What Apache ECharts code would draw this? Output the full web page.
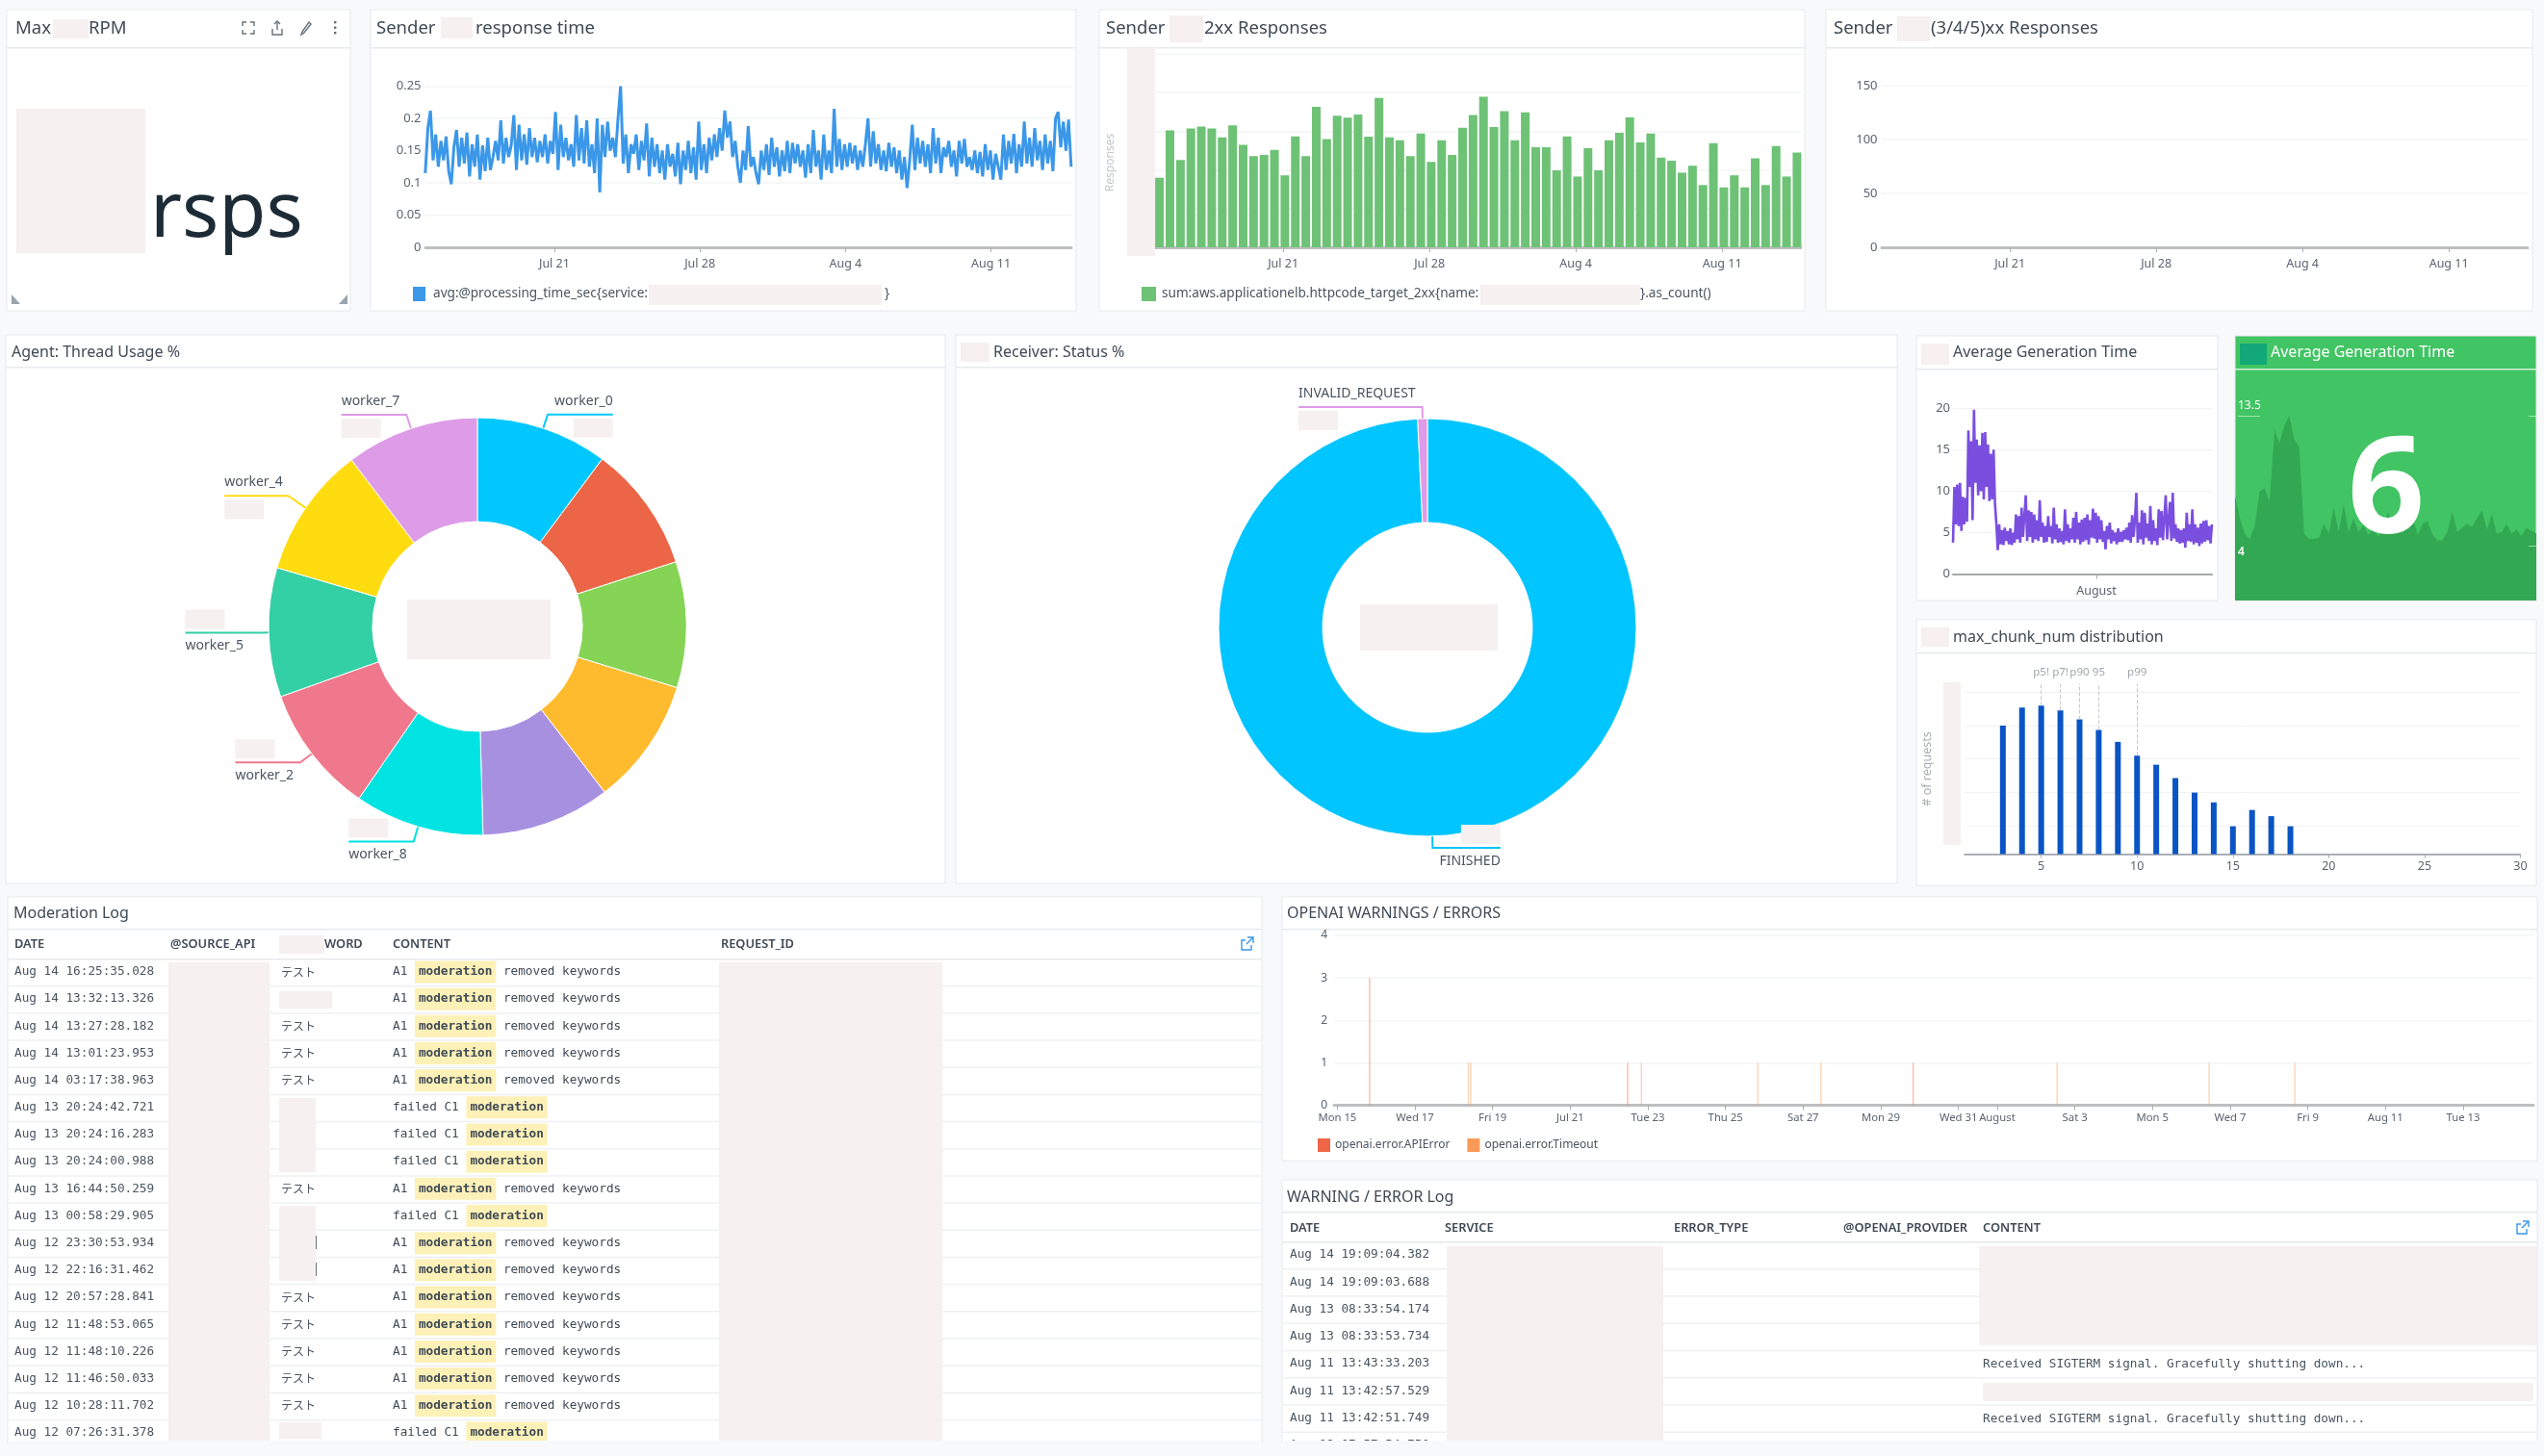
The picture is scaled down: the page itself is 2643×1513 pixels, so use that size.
<!DOCTYPE html>
<html>
<head>
<meta charset="utf-8">
<title>Dashboard</title>
<style>
  html, body { margin: 0; padding: 0; background: #f7f9fb; }
  #main { width: 2643px; height: 1513px; }
</style>
<script src="https://cdn.jsdelivr.net/npm/echarts@6/dist/echarts.min.js"></script>
</head>
<body>
<div id="main"></div>
<script>
// ---- data ----
const rangeStart = '2024-07-14T19:00:00'
const rangeEnd = '2024-08-14T20:30:00'

const weekTicks = ['2024-07-21', '2024-07-28', '2024-08-04', '2024-08-11']
const weekLabels = ['Jul 21', 'Jul 28', 'Aug 4', 'Aug 11']

const responseTime = [
  .115,.185,.212,.135,.175,.125,.165,.135,.172,.118,
  .098,.155,.182,.125,.17,.13,.178,.11,.16,.125,
  .175,.105,.158,.118,.17,.12,.14,.165,.135,.197,
  .13,.17,.14,.158,.205,.12,.19,.135,.175,.128,
  .185,.14,.17,.132,.165,.14,.175,.13,.165,.145,
  .21,.12,.19,.14,.17,.135,.16,.125,.205,.135,
  .185,.13,.197,.125,.16,.115,.2,.085,.19,.14,
  .195,.15,.17,.14,.2,.25,.13,.175,.115,.16,
  .145,.175,.12,.165,.135,.192,.11,.17,.125,.16,
  .115,.15,.105,.16,.125,.145,.11,.162,.098,.15,
  .12,.165,.115,.155,.105,.195,.12,.16,.115,.17,
  .135,.175,.14,.185,.15,.212,.17,.195,.14,.165,
  .125,.1,.15,.12,.188,.125,.14,.115,.098,.15,
  .12,.16,.112,.17,.125,.155,.11,.15,.118,.165,
  .115,.162,.13,.16,.125,.15,.108,.16,.115,.182,
  .125,.15,.105,.175,.12,.15,.115,.215,.125,.168,
  .12,.16,.125,.162,.13,.158,.12,.15,.125,.16,
  .2,.125,.18,.13,.16,.12,.15,.118,.162,.125,
  .155,.115,.15,.105,.14,.092,.135,.19,.12,.17,
  .13,.165,.125,.16,.115,.185,.13,.17,.115,.155,
  .14,.165,.125,.15,.11,.165,.13,.168,.125,.14,
  .12,.15,.115,.148,.11,.16,.12,.15,.105,.145,
  .125,.105,.175,.12,.165,.13,.176,.115,.16,.125,
  .195,.13,.17,.125,.185,.135,.165,.12,.175,.13,
  .165,.118,.2,.21,.155,.195,.15,.198,.125
]

const firstBarTime = '2024-07-15T02:00:00'
const responses2xx = [
  180,302,226,307,312,307,284,315,265,236,239,252,186,287,236,363,280,340,335,343,
  286,386,284,277,236,294,221,277,239,309,342,389,311,352,277,349,259,259,199,287,
  183,256,199,277,296,336,271,294,232,224,193,211,161,269,155,186,155,230,161,262,
  183,245
]

const avgGenTime = [
  3.8,10.5,6,10.8,5.8,11,5.2,9.3,6,9.2,
  6.3,17.3,10.5,16,6.5,19.8,11,16.2,9.5,15.5,
  10,17,9,17.1,10.5,15.6,8.8,14.5,9,15,
  8.5,6,2.9,6,3.6,5.3,3.5,5.6,4,5.2,
  3.6,5.5,3.5,5,3.8,7.2,4.2,7,3.8,8,
  4.5,7,9.5,4,7.7,4.5,7.5,3.8,7.2,4.2,
  6.5,4,8.9,4.5,6.2,3.8,5.8,3.9,7,4.5,
  5.8,3.7,8,4.2,6,3.8,5.5,3.9,5.2,3.6,
  7.8,4,6,3.8,5.5,4.2,6.8,3.8,7.5,4.2,
  6.2,3.6,6.6,3.9,6.8,4.1,7.2,3.6,6.5,4.4,
  7.9,4.3,7.4,3.8,7,4.2,6.5,3.9,5.2,3,
  5.8,4.2,6.2,3.7,5.3,4,5,3.6,5.5,3.9,
  5.1,3.9,5.3,4.2,5.6,4.1,6.2,3.8,7.1,4.5,
  6.5,9.8,3.8,6.2,4.2,7.7,3.6,7.4,4.4,6.1,
  4,8.2,3.6,6.5,4,5.5,3.5,7.8,4.4,7.6,
  4.1,6.8,9.5,4.2,6.5,8.7,4,9.8,4.3,6,
  3.9,5.5,3.7,5.3,3.8,5.5,3.2,7.4,4,6,
  3.9,7.8,3.6,6,3.8,5.6,3.4,6.1,3.7,6.4,
  3.9,6.5,4.1,5.8,3.7,6
]

const avgGenRollup = [
  7.7,6,4.8,4.5,5.5,8,8.2,7.2,12.5,11.5,12.8,13.5,11.8,11.2,4.9,4.5,4.5,4.6,5.6,4.9,
  6.8,5,7,5,6,5,5.5,4.8,5.2,4.7,5.2,6.5,5,5.6,4.9,5.8,6,4.8,5.6,5.8,
  4.8,4.4,4.4,5,6.5,5,5.3,5.6,5.4,6,6.6,5.2,6.3,4.9,5,5.6,4.9,5.2,4.7,5.3,
  5.1,4.9
]

const workerNames = ['worker_0','worker_1','worker_3','worker_6','worker_9','worker_8','worker_2','worker_5','worker_4','worker_7']
const workerShares = [10.2,9.8,9.75,9.85,10,10.03,9.95,10,10.17,10.3]
const workerColors = ['#00c8ff','#ec6546','#85d455','#ffbb2e','#a890e0','#00e3e3','#f0788c','#33cfa5','#ffdc10','#de9be8']

const statusNames = ['FINISHED','INVALID_REQUEST']
const statusShares = [99.25,0.75]
const statusColors = ['#00c5ff','#de9be8']

const chunkNums = [3,4,5,6,7,8,9,10,11,12,13,14,15,16,17,18]
const chunkCounts = [355,405,410,397,372,343,310,272,247,210,170,143,77,122,105,77]
const chunkGridValues = [77,170,263,355,447]
const chunkTicks = [5,10,15,20,25,30]
const percentileChunks = [5,6,7,8,10]
const percentileNames = ['p5!','p7!','p90','95','p99']

const apiErrorTimes = ['2024-07-15T20:00:00','2024-07-22T11:30:00','2024-07-29T20:00:00']
const apiErrorCounts = [3,1,1]
const timeoutTimes = ['2024-07-18T09:00:00','2024-07-18T10:30:00','2024-07-22T20:00:00','2024-07-25T20:00:00','2024-07-27T11:00:00','2024-08-02T13:00:00','2024-08-06T11:00:00','2024-08-08T16:00:00']
const timeoutCounts = [1,1,1,1,1,1,1,1]
const dayTicks = ['2024-07-15','2024-07-17','2024-07-19','2024-07-21','2024-07-23','2024-07-25','2024-07-27','2024-07-29','2024-07-31','2024-08-01','2024-08-03','2024-08-05','2024-08-07','2024-08-09','2024-08-11','2024-08-13']
const dayLabels = ['Mon 15','Wed 17','Fri 19','Jul 21','Tue 23','Thu 25','Sat 27','Mon 29','Wed 31','August','Sat 3','Mon 5','Wed 7','Fri 9','Aug 11','Tue 13']

const modDates = ['Aug 14 16:25:35.028','Aug 14 13:32:13.326','Aug 14 13:27:28.182','Aug 14 13:01:23.953','Aug 14 03:17:38.963','Aug 13 20:24:42.721','Aug 13 20:24:16.283','Aug 13 20:24:00.988','Aug 13 16:44:50.259','Aug 13 00:58:29.905','Aug 12 23:30:53.934','Aug 12 22:16:31.462','Aug 12 20:57:28.841','Aug 12 11:48:53.065','Aug 12 11:48:10.226','Aug 12 11:46:50.033','Aug 12 10:28:11.702','Aug 12 07:26:31.378']
const modWords = ['テスト','','テスト','テスト','テスト','','','','テスト','','','','テスト','テスト','テスト','テスト','テスト','']
const modFailed = [0,0,0,0,0,1,1,1,0,1,0,0,0,0,0,0,0,1]

const warnDates = ['Aug 14 19:09:04.382','Aug 14 19:09:03.688','Aug 13 08:33:54.174','Aug 13 08:33:53.734','Aug 11 13:43:33.203','Aug 11 13:42:57.529','Aug 11 13:42:51.749','Aug 08 07:57:54.750']
const warnContents = ['','','','','Received SIGTERM signal. Gracefully shutting down...','','Received SIGTERM signal. Gracefully shutting down...','failed to send chunk. Retrying request after timeout']

// ---- helpers ----
const ms = s => new Date(s.length === 10 ? s + 'T00:00:00' : s).getTime()
const FONT = '"Noto Sans", sans-serif'
const MONO = '"DejaVu Sans Mono", monospace'
const PINK = '#f6f0f0'
const LINE = '#e6e9ed'
const TEXT = '#3f4a55'
const AXIS_TEXT = '#5a6470'

const spread = (vals, start, end) => {
  const a = ms(start), b = ms(end)
  return vals.map((v, i) => [a + i * (b - a) / (vals.length - 1), v])
}

const els = []
const rect = (x, y, w, h, fill, z = 50) => els.push({ type: 'rect', z, silent: true, shape: { x, y, width: w, height: h }, style: { fill } })
const label = (x, y, text, o = {}) => els.push({
  type: 'text', z: o.z || 60, silent: true, x, y, rotation: o.rotation || 0,
  style: {
    text, fill: o.color || TEXT, fontSize: o.size || 16, fontFamily: o.family || FONT,
    fontWeight: o.weight || 'normal', align: o.align || 'left', verticalAlign: 'middle', rich: o.rich
  }
})
// small line icon, one polyline per stroke
const icon = (x, y, strokes, color = '#66717c') => strokes.forEach(points => els.push({
  type: 'polyline', z: 60, silent: true, x, y, shape: { points },
  style: { fill: null, stroke: color, lineWidth: 1.4 }
}))

// panel box with title bar
const panel = (x, y, w, h, sepY, fill = '#fff', sep = LINE) => {
  els.push({ type: 'rect', z: -5, silent: true, shape: { x, y, width: w, height: h }, style: { fill, stroke: LINE, lineWidth: 1 } })
  rect(x, sepY, w, 1.5, sep, -4)
}

// ---- panels ----
panel(7, 10, 357, 313, 49)
panel(385, 10, 733, 313, 49)
panel(1142, 10, 733, 313, 49)
panel(1897, 10, 734, 313, 49)
panel(6, 348, 976, 570, 381)
panel(993, 348, 978, 570, 381)
panel(1991, 349, 313, 275, 383)
panel(2322, 349, 313, 275, 383, '#41c463', 'rgba(255,255,255,.75)')
panel(1991, 644, 644, 276, 678)
panel(8, 932, 1303, 568, 965)
panel(1332, 932, 1304, 274, 965)
panel(1332, 1226, 1304, 274, 1259)

// top row titles
label(16, 30, 'Max', { size: 18.5 })
rect(55, 20, 37, 20, PINK)
label(92, 30, 'RPM', { size: 18.5 })
label(391, 30, 'Sender', { size: 18.5 })
rect(458, 18, 33, 22, PINK)
label(494, 30, 'response time', { size: 18.5 })
label(1149, 30, 'Sender', { size: 18.5 })
rect(1215, 16, 35, 28, PINK)
label(1251, 30, '2xx Responses', { size: 18.5 })
label(1905, 30, 'Sender', { size: 18.5 })
rect(1971, 17, 34, 26, PINK)
label(2006, 30, '(3/4/5)xx Responses', { size: 18.5 })

// title bar icons
icon(252, 23, [[[0, 4], [0, 0], [4, 0]], [[8, 0], [12, 0], [12, 4]], [[0, 8], [0, 12], [4, 12]], [[8, 12], [12, 12], [12, 8]]])
icon(282, 22, [[[6, 9], [6, 0]], [[3, 3], [6, 0], [9, 3]], [[1, 8], [1, 14], [11, 14], [11, 8]]])
icon(312, 22, [[[2, 11], [9, 1], [11, 3], [4, 12], [1, 14], [2, 11]]])
rect(347, 22, 2.4, 2.4, '#66717c', 60)
rect(347, 27.5, 2.4, 2.4, '#66717c', 60)
rect(347, 33, 2.4, 2.4, '#66717c', 60)

// big stat
rect(17, 113, 134, 150, PINK)
label(156, 223, 'rsps', { size: 80, color: '#1c2b36' })
els.push({ type: 'polygon', z: 60, silent: true, shape: { points: [[12, 306], [12, 316], [21, 316]] }, style: { fill: '#9aa4ad' } })
els.push({ type: 'polygon', z: 60, silent: true, shape: { points: [[361, 306], [361, 316], [352, 316]] }, style: { fill: '#9aa4ad' } })

// top row legends and masks
rect(429, 298, 13, 15, '#3b97e8')
label(450, 305, 'avg:@processing_time_sec{service:', { size: 13.6, color: '#4a5560' })
rect(674, 296, 242, 21, PINK)
label(919, 305, '}', { size: 13.6, color: '#4a5560' })
rect(1186, 298, 15, 15, '#6ec276')
label(1207, 305, 'sum:aws.applicationelb.httpcode_target_2xx{name:', { size: 13.6, color: '#4a5560' })
rect(1538, 296, 166, 21, PINK)
label(1704, 305, '}.as_count()', { size: 13.6, color: '#4a5560' })
rect(1171, 50, 29, 216, PINK)
label(1154, 169, 'Responses', { size: 12, color: '#c4c8cc', rotation: Math.PI / 2, align: 'center' })

// donut row
label(12, 366, 'Agent: Thread Usage %')
rect(423, 623, 149, 62, PINK)
rect(998, 356, 30, 20, PINK)
label(1032, 366, 'Receiver: Status %')
rect(1413, 628, 143, 48, PINK)

// right column titles
rect(1996, 357, 29, 22, PINK)
label(2029, 366, 'Average Generation Time')
rect(2327, 357, 28, 22, '#12a878')
label(2359, 366, 'Average Generation Time', { color: '#fff' })
label(2479, 514, '6', { size: 140, weight: 700, color: '#fff', align: 'center' })
label(2325, 422, '13.5', { size: 12, color: '#fff' })
label(2325, 574, '4', { size: 12, color: '#fff', weight: 600 })
rect(2325, 432, 23, 1, 'rgba(255,255,255,.5)')
rect(2627, 432, 8, 1, 'rgba(255,255,255,.5)')
rect(2627, 567, 8, 1, 'rgba(255,255,255,.5)')
rect(1996, 652, 29, 20, PINK)
label(2029, 662, 'max_chunk_num distribution')
rect(2019, 709, 18, 169, PINK)
label(2002, 799, '# of requests', { size: 12.5, color: '#a8adb3', rotation: Math.PI / 2, align: 'center' })

// ---- log tables ----
const HEAD = { size: 12.8, weight: 600, color: '#3f4a55' }
const modRows = { y0: 1010, step: 28.17 }
const warnRows = { y0: 1304, step: 28.25 }
const linkIcon = [[[4, 3], [0, 3], [0, 13], [10, 13], [10, 8]], [[6, 0], [12, 0], [12, 6]], [[12, 0], [5, 7]]]

label(14, 949, 'Moderation Log')
;[[15, 'DATE'], [177, '@SOURCE_API'], [337, 'WORD'], [408, 'CONTENT'], [749, 'REQUEST_ID']].forEach(h => label(h[0], 981, h[1], HEAD))
rect(290, 972, 47, 19, PINK)
icon(1290, 974, linkIcon, '#3b97e8')
rect(8, 996, 1303, 1.5, LINE, -3)

const modRich = {
  t: { fontFamily: MONO, fontSize: 12.7, color: '#4a5560' },
  h: { fontFamily: MONO, fontSize: 12.7, fontWeight: 'bold', color: '#333c45', backgroundColor: '#fdf1b8', padding: [5, 4] }
}
modDates.forEach((d, i) => {
  const y = modRows.y0 + i * modRows.step
  rect(8, y + 14, 1303, 1.5, '#eef0f2', -3)
  label(15, y, d, { family: MONO, size: 12.7, color: '#4a5560' })
  if (modWords[i]) label(292, y, modWords[i], { family: '"Noto Sans CJK JP"', size: 12, color: '#4a5560' })
  const content = modFailed[i] ? '{t|failed C1 }{h|moderation}' : '{t|A1 }{h|moderation}{t| removed keywords}'
  label(408, y, content, { rich: modRich })
})
rect(175, 1000, 105, 497, PINK)
rect(747, 1000, 232, 497, PINK)
rect(290, 1030, 55, 18, PINK)
rect(290, 1141, 38, 77, PINK)
rect(290, 1253, 38, 78, PINK)
rect(328, 1284, 1, 14, '#6a7480')
rect(328, 1312, 1, 14, '#6a7480')
rect(290, 1478, 44, 17, PINK)

label(1337, 1244, 'WARNING / ERROR Log')
label(1337, 949, 'OPENAI WARNINGS / ERRORS')
;[[1340, 'DATE'], [1501, 'SERVICE'], [1739, 'ERROR_TYPE'], [1915, '@OPENAI_PROVIDER'], [2060, 'CONTENT']].forEach(h => label(h[0], 1276, h[1], HEAD))
icon(2615, 1269, linkIcon, '#3b97e8')
rect(1332, 1290, 1304, 1.5, LINE, -3)
warnDates.forEach((d, i) => {
  const y = warnRows.y0 + i * warnRows.step
  if (i < warnDates.length - 1) rect(1332, y + 14, 1304, 1.5, '#eef0f2', -3)
  label(1340, y, d, { family: MONO, size: 12.7, color: '#4a5560' })
  if (warnContents[i]) label(2060, y + 1, warnContents[i], { family: MONO, size: 12.7, color: '#4a5560' })
})
rect(1503, 1295, 225, 205, PINK)
rect(2056, 1295, 580, 103, PINK)
rect(2060, 1437, 572, 19, PINK)
// last log row is cut by the panel edge
rect(1332, 1497, 1311, 16, '#f7f9fb', 70)
rect(8, 1497, 1303, 16, '#f7f9fb', 70)

// ---- chart parts ----
// time axes are value axes over timestamps, so the custom ticks keep their own labels
const timeAxis = (gridIndex, ticks, labels, min, max, extra = {}) => ({
  type: 'value', gridIndex, min: ms(min), max: ms(max),
  axisLine: { show: true, lineStyle: { color: '#bcbfc2', width: 3 } },
  axisTick: { show: true, length: 5, customValues: ticks.map(ms), lineStyle: { color: '#aab0b5' } },
  axisLabel: {
    customValues: ticks.map(ms), margin: 11, fontSize: 12.5, color: AXIS_TEXT, fontFamily: FONT,
    hideOverlap: false, formatter: v => labels[ticks.map(ms).indexOf(v)]
  },
  splitLine: { show: false },
  ...extra
})
const valueAxis = (gridIndex, max, interval, extra = {}) => ({
  type: 'value', gridIndex, min: 0, max, interval,
  axisLine: { show: false }, axisTick: { show: false },
  axisLabel: { fontSize: 13, color: AXIS_TEXT, fontFamily: FONT, margin: 4.5 },
  splitLine: { lineStyle: { color: '#f3f4f5', width: 1.5 } },
  ...extra
})

// pie slices only label the workers that the dashboard shows
const workerLabels = {
  worker_0: { len: 15, len2: 2, side: 'right', pinkFirst: false },
  worker_7: { len: 15, len2: 2, side: 'left', pinkFirst: false },
  worker_4: { len: 22, len2: 0.5, side: 'left', pinkFirst: false },
  worker_5: { len: 6, len2: 15, side: 'left', pinkFirst: true },
  worker_2: { len: 15, len2: 2, side: 'left', pinkFirst: true },
  worker_8: { len: 16, len2: 2, side: 'left', pinkFirst: true },
  FINISHED: { len: 12, len2: 2, side: 'right', pinkFirst: true },
  INVALID_REQUEST: { len: 12, len2: 2, side: 'left', pinkFirst: false }
}
const pieItem = (name, value, color) => {
  const cfg = workerLabels[name]
  const item = { name, value, itemStyle: { color } }
  if (!cfg) {
    item.label = { show: false }
    item.labelLine = { show: false }
    return item
  }
  const align = cfg.side
  item.label = {
    show: true,
    formatter: cfg.pinkFirst ? '{pink| }\n{gap| }\n{name|{b}}' : '{name|{b}}\n{gap| }\n{pink| }',
    rich: {
      name: { fontSize: 14, fontFamily: FONT, color: '#4a5560', height: 20, lineHeight: 20, align },
      gap: { fontSize: 1, height: 8, lineHeight: 8 },
      pink: { width: 41, height: 20, backgroundColor: PINK, align }
    }
  }
  item.labelLine = { show: true, length: cfg.len, length2: cfg.len2, lineStyle: { width: 2 } }
  return item
}
const pieLayout = cx => params => {
  const pts = params.labelLinePoints
  if (!pts) return {}
  const isLeft = params.labelRect.x < cx
  pts[2][0] = isLeft ? params.labelRect.x : params.labelRect.x + params.labelRect.width
  return { labelLinePoints: pts }
}
const pieSeries = (cx, cy, names, values, colors) => ({
  type: 'pie', center: [cx, cy], radius: [109, 217], startAngle: 90, clockwise: true,
  avoidLabelOverlap: false, animation: false, silent: true,
  itemStyle: { borderColor: '#fff', borderWidth: 1 },
  labelLayout: pieLayout(cx),
  data: names.map((n, i) => pieItem(n, values[i], colors[i]))
})

const percentileLines = percentileChunks.map((c, i) => [
  { name: percentileNames[i], coord: [c, chunkCounts[chunkNums.indexOf(c)]] },
  { coord: [c, 470] }
])

const option = {
  animation: false,
  backgroundColor: '#f7f9fb',
  textStyle: { fontFamily: FONT },
  graphic: { elements: els },
  legend: {
    left: 1364, top: 1178, itemWidth: 13, itemHeight: 14, itemGap: 18, icon: 'rect',
    itemStyle: { opacity: 1 },
    textStyle: { fontSize: 12, color: '#4a5560', fontFamily: FONT },
    data: ['openai.error.APIError', 'openai.error.Timeout']
  },
  grid: [
    { left: 442, top: 89.5, width: 671, height: 167.5 },
    { left: 1200, top: 56, width: 671, height: 201 },
    { left: 1955, top: 89, width: 671, height: 168 },
    { left: 2029, top: 424, width: 269, height: 172.7 },
    { left: 2322, top: 384, width: 313, height: 240 },
    { left: 2041, top: 710.7, width: 577.5, height: 176.9 },
    { left: 1386, top: 972, width: 1246, height: 176.6 }
  ],
  xAxis: [
    timeAxis(0, weekTicks, weekLabels, '2024-07-14T19:12:00', '2024-08-14T20:40:00'),
    timeAxis(1, weekTicks, weekLabels, '2024-07-14T20:53:00', '2024-08-14T18:30:00'),
    timeAxis(2, weekTicks, weekLabels, '2024-07-14T20:53:00', '2024-08-14T18:30:00'),
    timeAxis(3, ['2024-08-01'], ['August'], rangeStart, rangeEnd, {
      axisLine: { show: true, lineStyle: { color: '#a4a8ac', width: 2 } }
    }),
    { type: 'value', gridIndex: 4, show: false, min: ms(rangeStart), max: ms(rangeEnd), splitLine: { show: false } },
    {
      type: 'value', gridIndex: 5, min: 1, max: 30, splitLine: { show: false },
      axisLine: { lineStyle: { color: '#8f96a0', width: 1.5 } },
      axisTick: { length: 4, customValues: chunkTicks, lineStyle: { color: '#aab0b5' } },
      axisLabel: { customValues: chunkTicks, fontSize: 12.5, color: AXIS_TEXT, margin: 6, fontFamily: FONT }
    },
    timeAxis(6, dayTicks, dayLabels, '2024-07-14T22:00:00', '2024-08-14T19:30:00', {
      axisLabel: {
        customValues: dayTicks.map(ms), fontSize: 11.3, color: AXIS_TEXT, margin: 8, fontFamily: FONT,
        hideOverlap: false, formatter: v => dayLabels[dayTicks.map(ms).indexOf(v)]
      }
    })
  ],
  yAxis: [
    valueAxis(0, 0.25, 0.05),
    valueAxis(1, 500, 100, { axisLabel: { show: false } }),
    valueAxis(2, 150, 50),
    valueAxis(3, 20, 5, {
      axisLabel: { fontSize: 13, color: AXIS_TEXT, fontFamily: FONT, margin: 3 },
      splitLine: { lineStyle: { color: '#f1f2f3' } }
    }),
    { type: 'value', gridIndex: 4, show: false, min: 0, max: 16.9, splitLine: { show: false } },
    {
      type: 'value', gridIndex: 5, min: 0, max: 470,
      axisLine: { show: false }, axisLabel: { show: false },
      axisTick: { show: false, customValues: chunkGridValues },
      splitLine: { lineStyle: { color: '#f1f2f3' } }
    },
    valueAxis(6, 4, 1, { axisLabel: { fontSize: 12, color: AXIS_TEXT, margin: 7, fontFamily: FONT } })
  ],
  series: [
    {
      type: 'line', xAxisIndex: 0, yAxisIndex: 0, showSymbol: false, silent: true,
      lineStyle: { color: '#3b97e8', width: 3 },
      data: spread(responseTime, rangeStart, rangeEnd)
    },
    {
      type: 'bar', xAxisIndex: 1, yAxisIndex: 1, barWidth: 9, silent: true,
      itemStyle: { color: '#6ec276' },
      data: responses2xx.map((v, i) => [ms(firstBarTime) + i * 12 * 3600 * 1000, v])
    },
    { type: 'line', xAxisIndex: 2, yAxisIndex: 2, data: [], silent: true },
    {
      type: 'line', xAxisIndex: 3, yAxisIndex: 3, showSymbol: false, silent: true,
      lineStyle: { color: '#7a4fe0', width: 2.6 },
      data: spread(avgGenTime, rangeStart, rangeEnd)
    },
    {
      type: 'line', xAxisIndex: 4, yAxisIndex: 4, showSymbol: false, silent: true,
      lineStyle: { width: 0 }, areaStyle: { color: '#33a853', opacity: 1 },
      data: spread(avgGenRollup, rangeStart, rangeEnd)
    },
    {
      type: 'bar', xAxisIndex: 5, yAxisIndex: 5, barWidth: 6, silent: true,
      itemStyle: { color: '#0a54c4' },
      data: chunkNums.map((c, i) => [c, chunkCounts[i]]),
      markLine: {
        silent: true, symbol: 'none', animation: false,
        lineStyle: { color: '#c4c8cc', type: 'dashed', width: 1 },
        label: { show: true, position: 'end', formatter: '{b}', fontSize: 11.5, color: '#a0a6ac', fontFamily: FONT, distance: 6 },
        data: percentileLines
      }
    },
    {
      name: 'openai.error.APIError', type: 'bar', xAxisIndex: 6, yAxisIndex: 6, barWidth: 1.4, stack: 'err', silent: true,
      itemStyle: { color: '#ee6646', opacity: 0.42 },
      data: apiErrorTimes.map((t, i) => [ms(t), apiErrorCounts[i]])
    },
    {
      name: 'openai.error.Timeout', type: 'bar', xAxisIndex: 6, yAxisIndex: 6, barWidth: 1.4, stack: 'err', silent: true,
      itemStyle: { color: '#f89a57', opacity: 0.42 },
      data: timeoutTimes.map((t, i) => [ms(t), timeoutCounts[i]])
    },
    pieSeries(496, 651, workerNames, workerShares, workerColors),
    pieSeries(1483, 652, statusNames, statusShares, statusColors)
  ]
}

const chart = echarts.init(document.getElementById('main'))
chart.setOption(option)
</script>
</body>
</html>
